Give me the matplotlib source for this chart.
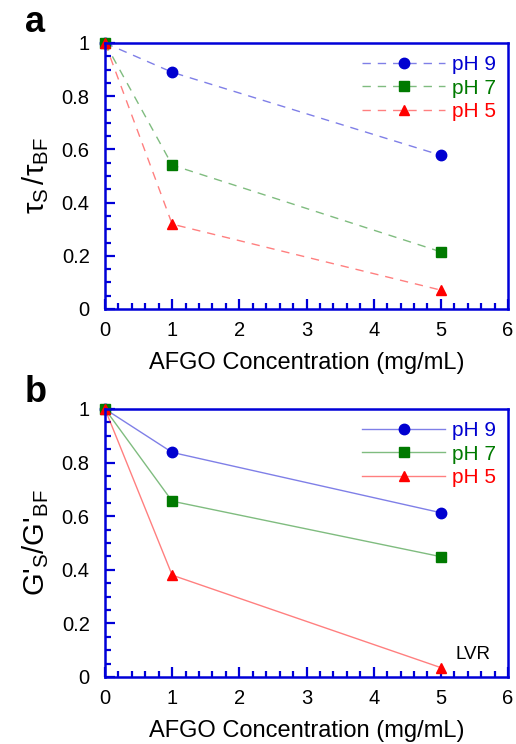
import numpy as np
import matplotlib.pyplot as plt
from matplotlib.colors import to_rgba
from matplotlib.ticker import MultipleLocator, FuncFormatter

plt.rcParams['font.family'] = ['Liberation Sans', 'DejaVu Sans']
plt.rcParams['mathtext.fontset'] = 'custom'
plt.rcParams['mathtext.rm'] = 'Liberation Sans'
plt.rcParams['mathtext.it'] = 'Liberation Sans'

# --- data ---
conc = [0, 1, 5]
labels = ["pH 9", "pH 7", "pH 5"]
tau_ph9 = [1.0, 0.89, 0.578]
tau_ph7 = [1.0, 0.541, 0.215]
tau_ph5 = [1.0, 0.319, 0.071]
g_ph9 = [1.0, 0.838, 0.613]
g_ph7 = [1.0, 0.656, 0.449]
g_ph5 = [1.0, 0.380, 0.035]

colors = ["#0000d0", "#007a00", "#ff0000"]
markers = ["o", "s", "^"]
AXIS_BLUE = "#0000d8"


def style_axes(ax):
    ax.set_xlim(0, 6)
    ax.set_ylim(0, 1)
    ax.xaxis.set_major_locator(MultipleLocator(1))
    ax.xaxis.set_minor_locator(MultipleLocator(0.2))
    ax.yaxis.set_major_locator(MultipleLocator(0.2))
    ax.yaxis.set_minor_locator(MultipleLocator(0.05))
    ax.yaxis.set_major_formatter(FuncFormatter(lambda v, p: f"{v:g}"))
    for sp in ax.spines.values():
        sp.set_color(AXIS_BLUE)
        sp.set_linewidth(1.8)
    ax.tick_params(which="both", direction="in", color=AXIS_BLUE, width=1.6,
                   labelsize=14.5, top=False, right=False)
    ax.tick_params(which="major", length=7)
    ax.tick_params(which="minor", length=4)
    ax.tick_params(axis="y", pad=11)
    ax.tick_params(axis="x", pad=9)
    ax.set_xlabel("AFGO Concentration (mg/mL)", fontsize=17, labelpad=8)


def draw_series(ax, series, ls):
    for ys, c, m, lab in zip(series, colors, markers, labels):
        # faded connecting line, solid markers
        ax.plot(conc, ys, ls=ls, color=to_rgba(c, 0.5), lw=1.0,
                marker=m, ms=7.5, markerfacecolor=c, markeredgecolor=c,
                label=lab, clip_on=False)
    leg = ax.legend(loc="upper right", frameon=False, fontsize=15,
                    handlelength=4.0, handletextpad=0.3, labelspacing=0.2,
                    borderaxespad=0.2)
    for txt, c in zip(leg.get_texts(), colors):
        txt.set_color(c)
    return leg


fig = plt.figure(figsize=(5.16, 7.44), dpi=100)
ax1 = fig.add_axes([105 / 516, 1 - 309 / 744, 403 / 516, 266 / 744])
ax2 = fig.add_axes([105 / 516, 1 - 677 / 744, 403 / 516, 268 / 744])

draw_series(ax1, [tau_ph9, tau_ph7, tau_ph5], (0, (6, 5)))
style_axes(ax1)
ax1.set_ylabel(r"$\tau_{\mathrm{S}}\,/\tau_{\mathrm{BF}}$", fontsize=21, labelpad=8)

draw_series(ax2, [g_ph9, g_ph7, g_ph5], "-")
style_axes(ax2)
ax2.set_ylabel(r"G'$_{\mathrm{S}}$/G'$_{\mathrm{BF}}$", fontsize=21, labelpad=8)
ax2.text(5.22, 0.085, "LVR", fontsize=13.5, ha="left", va="center")

fig.text(25 / 516, 1 - 22 / 744, "a", fontsize=26, fontweight="bold", va="center")
fig.text(25 / 516, 1 - 392 / 744, "b", fontsize=26, fontweight="bold", va="center")

fig.savefig("out.png", dpi=100)
